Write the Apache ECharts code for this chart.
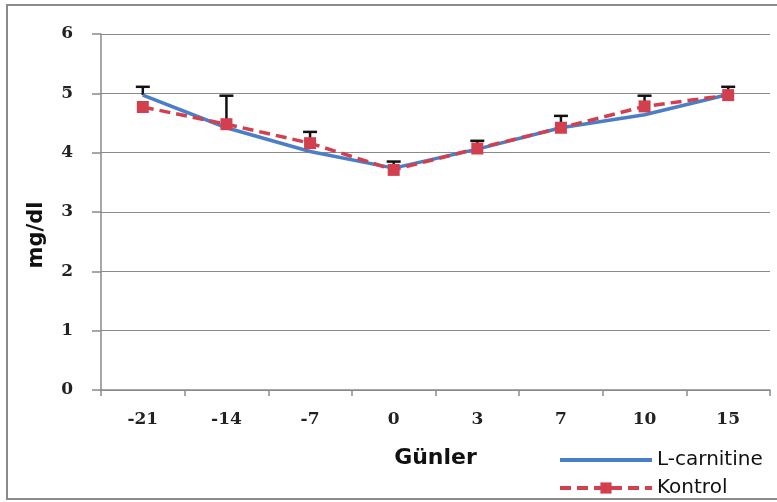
<!DOCTYPE html>
<html>
<head>
<meta charset="utf-8">
<script src="https://cdn.jsdelivr.net/npm/echarts@6/dist/echarts.min.js"></script>
<style>
  html, body { margin: 0; padding: 0; background: #ffffff; }
  #chart { width: 777px; height: 502px; }
</style>
</head>
<body>
<div id="chart"></div>
<script>
// Days relative to treatment start
const days = ['-21', '-14', '-7', '0', '3', '7', '10', '15'];

// Mean values (mg/dl)
const lCarnitine = [4.97, 4.42, 4.02, 3.74, 4.06, 4.42, 4.64, 4.98];
const kontrol    = [4.77, 4.48, 4.16, 3.71, 4.07, 4.42, 4.78, 4.97];

// Upper standard deviation per group (null = not drawn)
const lCarnitineSD = [0.14, null, null, null, null, null, null, null];
const kontrolSD    = [null, 0.48, 0.19, 0.14, 0.13, 0.20, 0.18, 0.14];

const yTicks = [0, 1, 2, 3, 4, 5, 6];

const chart = echarts.init(document.getElementById('chart'), null, { renderer: 'canvas' });

function errorItems(means, sds) {
  const out = [];
  means.forEach((m, i) => {
    if (sds[i] != null) out.push([i, m, m + sds[i]]);
  });
  return out;
}

function renderUpperError(params, api) {
  const x = api.value(0);
  const base = api.coord([x, api.value(1)]);
  const top = api.coord([x, api.value(2)]);
  const cap = 7;
  const style = { stroke: '#111111', lineWidth: 2.5, fill: null };
  return {
    type: 'group',
    children: [
      { type: 'line', shape: { x1: base[0], y1: base[1], x2: top[0], y2: top[1] }, style },
      { type: 'line', shape: { x1: top[0] - cap, y1: top[1], x2: top[0] + cap, y2: top[1] }, style }
    ]
  };
}

const fontSans = '"DejaVu Sans", "Open Sans", sans-serif';
const fontTick = '"DejaVu Serif", serif';
const legendText = { fontFamily: fontSans, fontSize: 20, color: '#111111' };

chart.setOption({
  backgroundColor: '#ffffff',
  animation: false,
  graphic: [{
    type: 'rect',
    shape: { x: 7, y: 5, width: 800, height: 494 },
    style: { fill: null, stroke: '#8a8a8a', lineWidth: 2 },
    z: -1
  }],
  grid: { left: 101, right: 7, top: 34, bottom: 112 },
  legend: [
    {
      left: 553, top: 445, itemWidth: 92, itemHeight: 14,
      textStyle: legendText,
      lineStyle: { width: 4 },
      data: [{ name: 'L-carnitine', itemStyle: { opacity: 0 } }]
    },
    {
      left: 553, top: 473, itemWidth: 92, itemHeight: 14,
      textStyle: legendText,
      lineStyle: { width: 4 },
      data: ['Kontrol']
    }
  ],
  xAxis: {
    type: 'category',
    data: days,
    boundaryGap: true,
    name: 'Günler',
    nameLocation: 'middle',
    nameGap: 57,
    nameTextStyle: { fontFamily: fontSans, fontSize: 22, fontWeight: 'bold', color: '#111111' },
    axisLine: { lineStyle: { color: '#8a8a8a', width: 1.5 } },
    axisTick: { show: true, alignWithLabel: false, length: 6, lineStyle: { color: '#8a8a8a', width: 1.5 } },
    axisLabel: { fontFamily: fontTick, fontSize: 17, fontWeight: 'bold', color: '#222222', margin: 21 },
    splitLine: { show: false }
  },
  yAxis: {
    type: 'value',
    min: yTicks[0],
    max: yTicks[yTicks.length - 1],
    interval: 1,
    name: 'mg/dl',
    nameLocation: 'middle',
    nameGap: 54,
    nameRotate: 90,
    nameTextStyle: { fontFamily: fontSans, fontSize: 21, fontWeight: 'bold', color: '#111111', padding: [0, 46, 0, 0] },
    axisLine: { show: true, lineStyle: { color: '#8a8a8a', width: 1.5 } },
    axisTick: { show: true, length: 9, lineStyle: { color: '#8a8a8a', width: 1.5 } },
    axisLabel: { fontFamily: fontTick, fontSize: 17, fontWeight: 'bold', color: '#222222', margin: 28 },
    splitLine: { show: true, lineStyle: { color: '#8a8a8a', width: 1.2 } }
  },
  series: [
    {
      name: 'L-carnitine',
      type: 'line',
      data: lCarnitine,
      symbol: 'none',
      lineStyle: { color: '#4a7fc8', width: 3.5 },
      itemStyle: { color: '#4a7fc8' },
      z: 3
    },
    {
      name: 'Kontrol',
      type: 'line',
      data: kontrol,
      symbol: 'rect',
      symbolSize: 12,
      lineStyle: { color: '#d2404f', width: 3.5, type: [11, 6] },
      itemStyle: { color: '#d2404f' },
      z: 4
    },
    {
      name: 'L-carnitine SD',
      type: 'custom',
      renderItem: renderUpperError,
      data: errorItems(lCarnitine, lCarnitineSD),
      encode: { x: 0, y: [1, 2] },
      z: 2
    },
    {
      name: 'Kontrol SD',
      type: 'custom',
      renderItem: renderUpperError,
      data: errorItems(kontrol, kontrolSD),
      encode: { x: 0, y: [1, 2] },
      z: 2
    }
  ]
});
</script>
</body>
</html>
